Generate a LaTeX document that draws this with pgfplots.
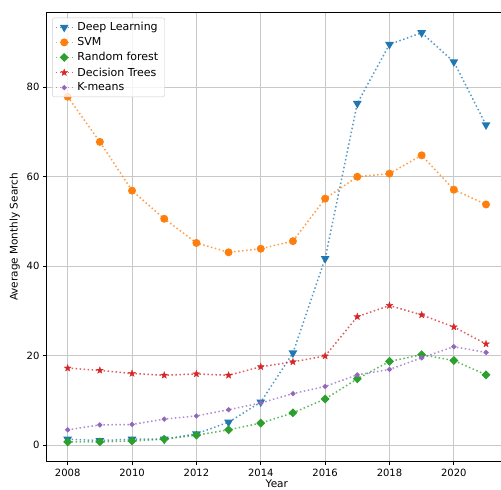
\documentclass[border=0pt]{standalone}
\usepackage{fontspec}
\setmainfont{DejaVu Sans}
\usepackage{pgfplots}
\pgfplotsset{compat=1.18}

\definecolor{c0}{HTML}{1F77B4}
\definecolor{c1}{HTML}{FF7F0E}
\definecolor{c2}{HTML}{2CA02C}
\definecolor{c3}{HTML}{D62728}
\definecolor{c4}{HTML}{9467BD}
\definecolor{gridgray}{HTML}{C8C8C8}

% filled five-pointed star like matplotlib's '*'
\pgfdeclareplotmark{fstar}{%
  \pgfpathmoveto{\pgfpointpolar{90}{\pgfplotmarksize}}%
  \pgfpathlineto{\pgfpointpolar{126}{0.42\pgfplotmarksize}}%
  \pgfpathlineto{\pgfpointpolar{162}{\pgfplotmarksize}}%
  \pgfpathlineto{\pgfpointpolar{198}{0.42\pgfplotmarksize}}%
  \pgfpathlineto{\pgfpointpolar{234}{\pgfplotmarksize}}%
  \pgfpathlineto{\pgfpointpolar{270}{0.42\pgfplotmarksize}}%
  \pgfpathlineto{\pgfpointpolar{306}{\pgfplotmarksize}}%
  \pgfpathlineto{\pgfpointpolar{342}{0.42\pgfplotmarksize}}%
  \pgfpathlineto{\pgfpointpolar{18}{\pgfplotmarksize}}%
  \pgfpathlineto{\pgfpointpolar{54}{0.42\pgfplotmarksize}}%
  \pgfpathclose
  \pgfusepathqfillstroke
}

\pgfplotsset{
  dotline/.style={line width=1.5pt, dash pattern=on 1.5pt off 2.5pt,
    draw opacity=0.75},
}

\begin{document}
\begin{tikzpicture}
\begin{axis}[
    at={(0,0)}, anchor=south west,
    scale only axis, width=460.7pt, height=449.4pt,
    xmin=2007.342, xmax=2021.658, ymin=-3.73, ymax=96.78,
    xtick={2008,2010,...,2020}, ytick={0,20,...,80},
    xtick pos=bottom, ytick pos=left,
    tick align=outside, major tick length=3.5pt,
    tick style={black, line width=0.8pt},
    axis line style={line width=0.8pt},
    grid=major, grid style={color=gridgray, line width=0.8pt},
    /pgf/number format/assume math mode=true,
    /pgf/number format/1000 sep={},
    ticklabel style={font=\fontsize{10}{12}\selectfont},
    label style={font=\fontsize{10.5}{12}\selectfont},
    xlabel style={yshift=3pt},
    xlabel={Year}, ylabel={Average Monthly Search},
    legend cell align=left,
    legend style={at={(0.0124,0.988)}, anchor=north west,
      draw=black!20, rounded corners=2pt, fill=white, fill opacity=0.8,
      text opacity=1, font=\fontsize{11}{13}\selectfont,
      inner sep=2.5pt, row sep=1.3pt,
      nodes={inner xsep=4pt}},
  ]
  \addplot[c0, dotline, mark=triangle*, mark size=3.6pt,
    mark options={solid, rotate=180, opacity=1}] coordinates {
    (2008,1.3) (2009,1.0) (2010,1.3) (2011,1.3) (2012,2.5) (2013,5.1)
    (2014,9.6) (2015,20.6) (2016,41.7) (2017,76.4) (2018,89.6)
    (2019,92.2) (2020,85.7) (2021,71.6)};
  \addlegendentry{Deep Learning}
  \addplot[c1, dotline, mark=*, mark size=3.2pt, mark options={solid, opacity=1}]
    coordinates {
    (2008,77.9) (2009,67.8) (2010,56.9) (2011,50.6) (2012,45.2) (2013,43.1)
    (2014,43.9) (2015,45.6) (2016,55.1) (2017,60.0) (2018,60.7)
    (2019,64.8) (2020,57.1) (2021,53.8)};
  \addlegendentry{SVM}
  \addplot[c2, dotline, mark=square*, mark size=2.4pt,
    mark options={solid, rotate=45, opacity=1}] coordinates {
    (2008,0.7) (2009,0.7) (2010,0.9) (2011,1.3) (2012,2.2) (2013,3.4)
    (2014,4.9) (2015,7.2) (2016,10.3) (2017,14.8) (2018,18.7)
    (2019,20.2) (2020,18.9) (2021,15.7)};
  \addlegendentry{Random forest}
  \addplot[c3, dotline, mark=fstar, mark size=3.6pt,
    mark options={solid, line width=0.3pt, opacity=1}] coordinates {
    (2008,17.2) (2009,16.7) (2010,16.0) (2011,15.6) (2012,15.9) (2013,15.6)
    (2014,17.5) (2015,18.6) (2016,19.9) (2017,28.7) (2018,31.2)
    (2019,29.1) (2020,26.4) (2021,22.6)};
  \addlegendentry{Decision Trees}
  \addplot[c4, dotline, mark=*, mark size=1.7pt, mark options={solid, opacity=1}]
    coordinates {
    (2008,3.4) (2009,4.5) (2010,4.6) (2011,5.8) (2012,6.5) (2013,7.9)
    (2014,9.4) (2015,11.5) (2016,13.1) (2017,15.7) (2018,16.9)
    (2019,19.5) (2020,22.0) (2021,20.7)};
  \addlegendentry{K-means}
\end{axis}
\pgfresetboundingbox
\path[use as bounding box] (-46.5pt,-28.3pt) rectangle (454.5pt,461.7pt);
\end{tikzpicture}
\end{document}
